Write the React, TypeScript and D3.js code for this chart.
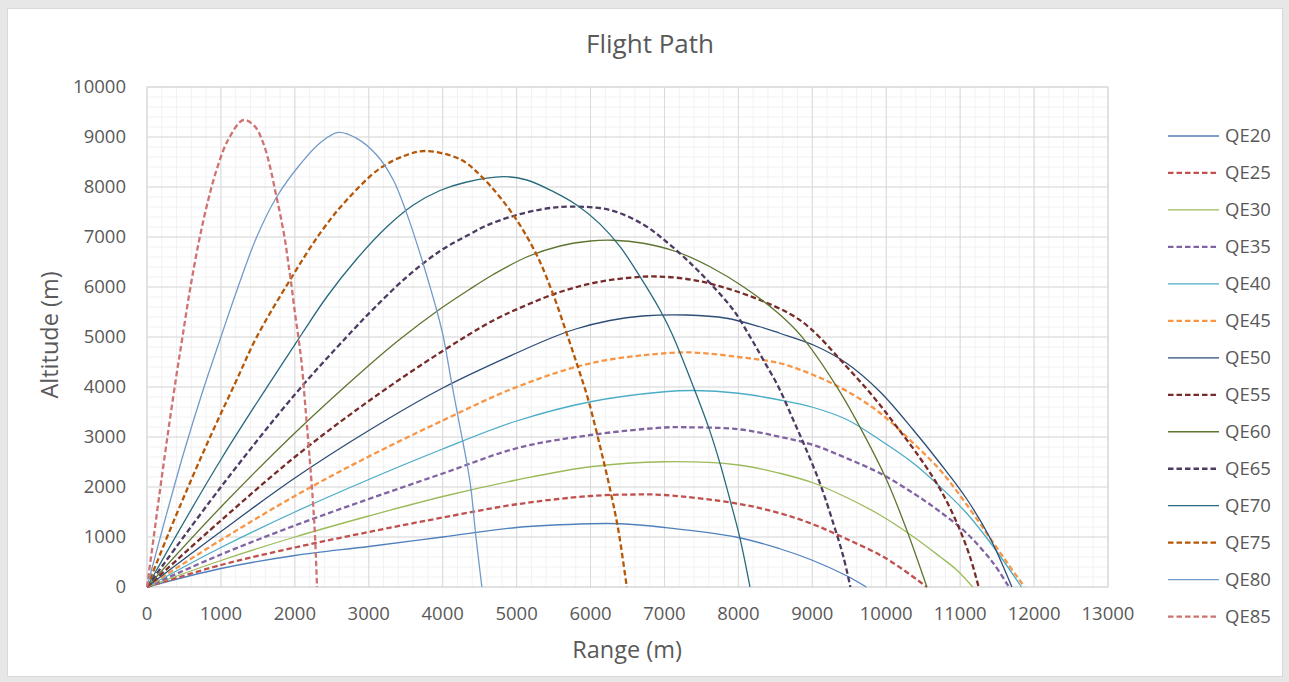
import React from "react";
import * as d3 from "d3";

type Pt = [number, number];

const xTicks = [0, 1000, 2000, 3000, 4000, 5000, 6000, 7000, 8000, 9000, 10000, 11000, 12000, 13000];
const yTicks = [0, 1000, 2000, 3000, 4000, 5000, 6000, 7000, 8000, 9000, 10000];

const qe20: Pt[] = [[0,0],[1000,370],[2000,630],[3000,810],[4000,1000],[5000,1190],[6000,1265],[6400,1265],[7000,1190],[8000,990],[8550,770],[9000,535],[9450,235],[9730,0]];
const qe25: Pt[] = [[0,0],[1000,440],[2000,790],[3000,1100],[4000,1390],[5000,1655],[6000,1820],[6600,1850],[7000,1840],[8000,1665],[8550,1480],[9000,1260],[9450,970],[10000,570],[10550,0]];
const qe30: Pt[] = [[0,0],[1000,530],[2000,1000],[3000,1420],[4000,1810],[5000,2140],[6000,2405],[7000,2505],[8000,2440],[8560,2275],[9015,2080],[9465,1790],[9916,1440],[10367,1005],[10728,605],[10954,340],[11170,0]];
const qe35: Pt[] = [[0,0],[1000,650],[2000,1230],[3000,1760],[4000,2270],[5000,2775],[6000,3040],[7000,3190],[7300,3195],[8000,3155],[8560,3005],[9015,2840],[9465,2575],[9916,2275],[10367,1875],[10728,1505],[11089,1075],[11449,475],[11660,0]];
const qe40: Pt[] = [[0,0],[1000,790],[2000,1500],[3000,2150],[4000,2760],[5000,3320],[6000,3705],[7000,3905],[7400,3930],[8000,3875],[8560,3740],[9015,3590],[9465,3350],[9916,2940],[10367,2475],[10728,2005],[11089,1475],[11449,805],[11830,0]];
const qe45: Pt[] = [[0,0],[1000,940],[2000,1820],[3000,2610],[4000,3330],[5000,4000],[6000,4475],[7000,4675],[7400,4690],[8000,4600],[8560,4475],[9015,4240],[9465,3920],[9916,3480],[10367,2875],[10728,2340],[11043,1740],[11359,1075],[11630,500],[11870,0]];
const qe50: Pt[] = [[0,0],[1000,1110],[2000,2180],[3000,3130],[4000,3980],[5000,4680],[5500,5000],[5800,5160],[6260,5330],[6700,5420],[7300,5440],[7840,5375],[8290,5205],[8560,5075],[9015,4840],[9465,4475],[9916,3905],[10367,3140],[10728,2475],[11089,1760],[11404,980],[11700,0]];
const qe55: Pt[] = [[0,0],[1000,1330],[2000,2600],[3000,3720],[4000,4720],[4685,5330],[5137,5640],[5587,5900],[6038,6080],[6489,6180],[6900,6210],[7391,6140],[7842,5975],[8292,5740],[8699,5460],[8969,5180],[9465,4405],[9825,3805],[10142,3205],[10457,2580],[10728,1960],[10954,1290],[11133,605],[11250,0]];
const qe60: Pt[] = [[0,0],[1000,1600],[2000,3080],[3000,4430],[3400,4930],[3964,5560],[4370,5960],[4685,6250],[5137,6600],[5587,6820],[6000,6920],[6300,6935],[6714,6875],[7165,6705],[7616,6405],[8067,6005],[8540,5473],[8857,5007],[9330,4007],[9690,3073],[10006,2140],[10277,1140],[10550,0]];
const qe65: Pt[] = [[0,0],[1000,2000],[2000,3850],[2700,5000],[3062,5560],[3513,6200],[3964,6720],[4370,7060],[4595,7230],[4955,7420],[5361,7560],[5722,7607],[6263,7540],[6714,7250],[7030,6900],[7391,6420],[7661,6007],[7932,5540],[8157,5007],[8338,4540],[8540,4007],[8743,3340],[8901,2807],[9104,2073],[9284,1273],[9420,607],[9515,0]];
const qe70: Pt[] = [[0,0],[1000,2550],[2090,5050],[2431,5800],[2837,6560],[3243,7200],[3603,7640],[3964,7930],[4300,8090],[4820,8207],[5137,8140],[5497,7907],[5813,7640],[6119,7273],[6399,6807],[6669,6207],[6940,5540],[7100,5070],[7391,4007],[7594,3207],[7751,2473],[7887,1740],[8022,973],[8157,0]];
const qe75: Pt[] = [[0,0],[300,1100],[600,2150],[900,3150],[1200,4100],[1484,5000],[1935,6140],[2340,7073],[2702,7740],[3152,8373],[3513,8640],[3761,8720],[4234,8555],[4550,8173],[4955,7440],[5272,6640],[5497,5840],[5678,5070],[5835,4373],[5970,3740],[6173,2540],[6286,1807],[6376,1140],[6490,0]];
const qe80: Pt[] = [[0,0],[250,1380],[500,2700],[750,3900],[1000,5000],[1213,5920],[1484,7000],[1754,7800],[2070,8450],[2340,8880],[2588,9093],[2837,8973],[3107,8640],[3332,8140],[3513,7473],[3693,6673],[3828,6007],[3918,5540],[4008,5007],[4122,4073],[4234,3200],[4370,2100],[4450,1000],[4530,0]];
const qe85: Pt[] = [[0,0],[100,1100],[200,2200],[300,3250],[400,4250],[480,5000],[582,5950],[694,6850],[808,7620],[943,8350],[1100,8950],[1303,9340],[1461,9207],[1574,8873],[1664,8407],[1732,7940],[1799,7473],[1867,6940],[1912,6473],[1957,6007],[2002,5473],[2047,5007],[2092,4473],[2137,3700],[2182,2900],[2228,2050],[2270,1100],[2300,0]];

const seriesNames = ["QE20","QE25","QE30","QE35","QE40","QE45","QE50","QE55","QE60","QE65","QE70","QE75","QE80","QE85"];
const seriesData = [qe20, qe25, qe30, qe35, qe40, qe45, qe50, qe55, qe60, qe65, qe70, qe75, qe80, qe85];
const seriesColors = ["#4F81BD","#C0504D","#9BBB59","#8064A2","#4BACC6","#F79646","#2C4D75","#772C2A","#5F7530","#4D3B62","#276A7C","#B65708","#729ACA","#CD7371"];
const seriesDashed = [false,true,false,true,false,true,false,true,false,true,false,true,false,true];

const FONT = "'Open Sans', 'Noto Sans', sans-serif";
const TXT = "#595959";

export default function App() {
  const W = 1289, H = 682;
  const left = 147, right = 1108, top = 87, bottom = 587;
  const x = d3.scaleLinear().domain([0, 13000]).range([left, right]);
  const y = d3.scaleLinear().domain([0, 10000]).range([bottom, top]);
  const line = d3.line<Pt>().x(d => x(d[0])).y(d => y(d[1])).curve(d3.curveCatmullRom.alpha(0.5));
  const minorX = d3.range(0, 13001, 200);
  const minorY = d3.range(0, 10001, 200);

  return (
    <svg width={W} height={H} style={{ position: "absolute", left: 0, top: 0 }} xmlns="http://www.w3.org/2000/svg">
      <rect x={0} y={0} width={W} height={H} fill="#e7e7e7" />
      <rect x={7.5} y={8.5} width={1275} height={668} fill="#ffffff" stroke="#d9d9d9" strokeWidth={1} />
      <text x={650} y={53} textAnchor="middle" fontFamily={FONT} fontSize={26} fill={TXT}>Flight Path</text>
      <g>
        {minorX.map(v => (
          <line key={"mx" + v} x1={x(v)} x2={x(v)} y1={top} y2={bottom} stroke="#f2f2f2" strokeWidth={1} />
        ))}
        {minorY.map(v => (
          <line key={"my" + v} x1={left} x2={right} y1={y(v)} y2={y(v)} stroke="#f2f2f2" strokeWidth={1} />
        ))}
        {xTicks.map(v => (
          <line key={"gx" + v} x1={x(v)} x2={x(v)} y1={top} y2={bottom} stroke="#d9d9d9" strokeWidth={1} />
        ))}
        {yTicks.map(v => (
          <line key={"gy" + v} x1={left} x2={right} y1={y(v)} y2={y(v)} stroke="#d9d9d9" strokeWidth={1} />
        ))}
        <rect x={left} y={top} width={right - left} height={bottom - top} fill="none" stroke="#d9d9d9" strokeWidth={1} />
      </g>
      <defs>
        <clipPath id="plotClip">
          <rect x={left - 2} y={top - 2} width={right - left + 4} height={bottom - top + 3} />
        </clipPath>
      </defs>
      <g clipPath="url(#plotClip)">
        {seriesData.map((d, i) => (
          <path key={seriesNames[i]} d={line(d) || ""} fill="none" stroke={seriesColors[i]}
            strokeWidth={seriesDashed[i] ? 2.3 : 1.3}
            strokeDasharray={seriesDashed[i] ? "5.5,3" : undefined}
            strokeLinejoin="round" />
        ))}
      </g>
      <g fontFamily={FONT} fontSize={18.5} fill={TXT}>
        {yTicks.map(v => (
          <text key={"ty" + v} x={126} y={y(v)} dy="0.35em" textAnchor="end">{v}</text>
        ))}
        {xTicks.map(v => (
          <text key={"tx" + v} x={x(v)} y={620} textAnchor="middle">{v}</text>
        ))}
      </g>
      <text x={627} y={658} textAnchor="middle" fontFamily={FONT} fontSize={23.5} fill={TXT}>Range (m)</text>
      <text transform="translate(58,335) rotate(-90)" textAnchor="middle" fontFamily={FONT} fontSize={23.5} fill={TXT}>Altitude (m)</text>
      <g>
        {seriesNames.map((n, i) => {
          const cy = 136 + i * 36.97;
          return (
            <g key={"lg" + n}>
              <line x1={1168} x2={1219} y1={cy} y2={cy} stroke={seriesColors[i]}
                strokeWidth={seriesDashed[i] ? 2.3 : 1.3}
                strokeDasharray={seriesDashed[i] ? "5.5,3" : undefined} />
              <text x={1225} y={cy} dy="0.35em" fontFamily={FONT} fontSize={18.5} fill={TXT}>{n}</text>
            </g>
          );
        })}
      </g>
    </svg>
  );
}
